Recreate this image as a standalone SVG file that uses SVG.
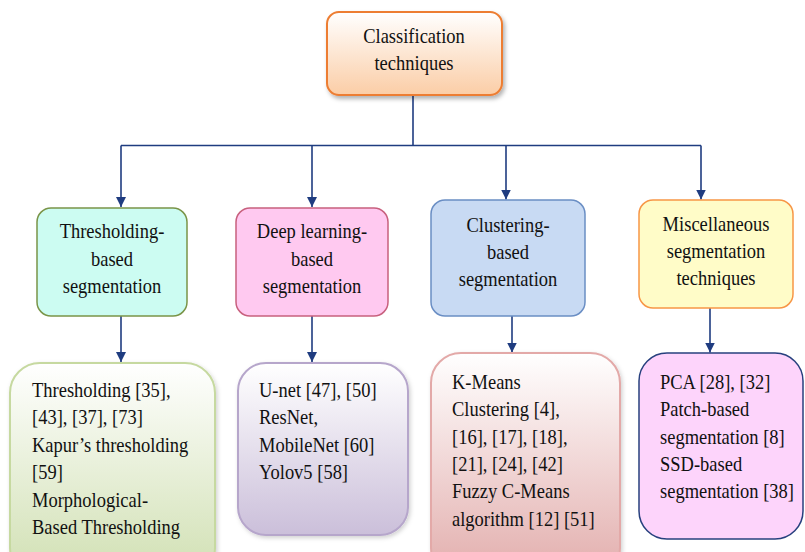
<svg xmlns="http://www.w3.org/2000/svg" width="805" height="552" viewBox="0 0 805 552">
<style>
  text { font-family: "Liberation Serif", "Times New Roman", serif; font-size: 18.5px; fill: #111; }
  .c { text-anchor: middle; }
  .conn { fill: none; stroke: #1F3C80; stroke-width: 1.6; }
</style>
<defs>
  <marker id="arr" markerUnits="userSpaceOnUse" markerWidth="10" markerHeight="10" refX="10" refY="5" orient="auto">
    <path d="M0,0 L10,5 L0,10 z" fill="#1F3C80"/>
  </marker>
  <filter id="sh" x="-10%" y="-10%" width="130%" height="130%">
    <feDropShadow dx="2" dy="3" stdDeviation="2" flood-color="#000" flood-opacity="0.3"/>
  </filter>
  <filter id="sh2" x="-10%" y="-10%" width="130%" height="130%">
    <feDropShadow dx="1.5" dy="2" stdDeviation="2" flood-color="#000" flood-opacity="0.18"/>
  </filter>
  <linearGradient id="gRoot" x1="0" y1="0" x2="0" y2="1">
    <stop offset="0" stop-color="#FFFFFF"/><stop offset="1" stop-color="#FBCDA6"/>
  </linearGradient>
  <linearGradient id="gGreen" x1="0" y1="0" x2="0" y2="1">
    <stop offset="0" stop-color="#FFFFFF"/><stop offset="0.9" stop-color="#D5E3BA"/>
  </linearGradient>
  <linearGradient id="gLav" x1="0" y1="0" x2="0" y2="1">
    <stop offset="0" stop-color="#FFFFFF"/><stop offset="1" stop-color="#CBBFDA"/>
  </linearGradient>
  <linearGradient id="gRose" x1="0" y1="0" x2="0" y2="1">
    <stop offset="0" stop-color="#FFFFFF"/><stop offset="0.9" stop-color="#E5B5B4"/>
  </linearGradient>
</defs>

<g id="connectors">
  <path class="conn" d="M413,95 V145.5"/>
  <path class="conn" d="M121,145.5 H701"/>
  <path class="conn" d="M121,145.5 V207" marker-end="url(#arr)"/>
  <path class="conn" d="M312,145.5 V207" marker-end="url(#arr)"/>
  <path class="conn" d="M506,145.5 V199.5" marker-end="url(#arr)"/>
  <path class="conn" d="M701,145.5 V199.5" marker-end="url(#arr)"/>
  <path class="conn" d="M121,316 V362" marker-end="url(#arr)"/>
  <path class="conn" d="M312,316 V362" marker-end="url(#arr)"/>
  <path class="conn" d="M512,316 V352.5" marker-end="url(#arr)"/>
  <path class="conn" d="M710,308 V352.5" marker-end="url(#arr)"/>
</g>

<g id="root">
  <rect x="327" y="12" width="175" height="83" rx="12" fill="url(#gRoot)" stroke="#ED7D31" stroke-width="2" filter="url(#sh)"/>
  <text class="c" transform="translate(414,43) scale(1,1.15)">Classification</text>
  <text class="c" transform="translate(414,70) scale(1,1.15)">techniques</text>
</g>

<g id="thresholding">
  <rect x="37" y="208" width="150" height="108" rx="14" fill="#CCFCF2" stroke="#7A9448" stroke-width="1.5"/>
  <text class="c" transform="translate(112,238) scale(1,1.15)">Thresholding-</text>
  <text class="c" transform="translate(112,266) scale(1,1.15)">based</text>
  <text class="c" transform="translate(112,293) scale(1,1.15)">segmentation</text>
</g>

<g id="deeplearning">
  <rect x="236" y="208" width="152" height="108" rx="14" fill="#FFC9F0" stroke="#C8607E" stroke-width="1.5"/>
  <text class="c" transform="translate(312,238) scale(1,1.15)">Deep learning-</text>
  <text class="c" transform="translate(312,266) scale(1,1.15)">based</text>
  <text class="c" transform="translate(312,293) scale(1,1.15)">segmentation</text>
</g>

<g id="clustering">
  <rect x="431" y="200" width="154" height="116" rx="14" fill="#C8DAF3" stroke="#6A8EC4" stroke-width="1.5"/>
  <text class="c" transform="translate(508,232) scale(1,1.15)">Clustering-</text>
  <text class="c" transform="translate(508,259) scale(1,1.15)">based</text>
  <text class="c" transform="translate(508,286) scale(1,1.15)">segmentation</text>
</g>

<g id="misc">
  <rect x="639" y="200" width="154" height="108" rx="14" fill="#FFFCC8" stroke="#F79646" stroke-width="1.5"/>
  <text class="c" transform="translate(716,231) scale(1,1.15)">Miscellaneous</text>
  <text class="c" transform="translate(716,258) scale(1,1.15)">segmentation</text>
  <text class="c" transform="translate(716,285) scale(1,1.15)">techniques</text>
</g>

<g id="thresholding-list">
  <rect x="10" y="363" width="205" height="215" rx="30" fill="url(#gGreen)" stroke="#C6D9A0" stroke-width="2" filter="url(#sh2)"/>
  <text transform="translate(32,397) scale(1,1.15)">Thresholding [35],</text>
  <text transform="translate(32,424) scale(1,1.15)">[43], [37], [73]</text>
  <text transform="translate(32,452) scale(1,1.15)">Kapur’s thresholding</text>
  <text transform="translate(32,479) scale(1,1.15)">[59]</text>
  <text transform="translate(32,507) scale(1,1.15)">Morphological-</text>
  <text transform="translate(32,534) scale(1,1.15)">Based Thresholding</text>
</g>

<g id="deeplearning-list">
  <rect x="238" y="363" width="170" height="172" rx="28" fill="url(#gLav)" stroke="#B6A6CB" stroke-width="2" filter="url(#sh2)"/>
  <text transform="translate(259,397) scale(1,1.15)">U-net [47], [50]</text>
  <text transform="translate(259,424) scale(1,1.15)">ResNet,</text>
  <text transform="translate(259,452) scale(1,1.15)">MobileNet [60]</text>
  <text transform="translate(259,479) scale(1,1.15)">Yolov5 [58]</text>
</g>

<g id="clustering-list">
  <rect x="431" y="353" width="189" height="225" rx="30" fill="url(#gRose)" stroke="#E3A9A8" stroke-width="2" filter="url(#sh2)"/>
  <text transform="translate(452,389) scale(1,1.15)">K-Means</text>
  <text transform="translate(452,416) scale(1,1.15)">Clustering [4],</text>
  <text transform="translate(452,444) scale(1,1.15)">[16], [17], [18],</text>
  <text transform="translate(452,471) scale(1,1.15)">[21], [24], [42]</text>
  <text transform="translate(452,498) scale(1,1.15)">Fuzzy C-Means</text>
  <text transform="translate(452,526) scale(1,1.15)">algorithm [12] [51]</text>
</g>

<g id="misc-list">
  <rect x="639" y="353" width="164" height="186" rx="28" fill="#FDD4FB" stroke="#27407E" stroke-width="1.5"/>
  <text transform="translate(660,389) scale(1,1.15)">PCA [28], [32]</text>
  <text transform="translate(660,416) scale(1,1.15)">Patch-based</text>
  <text transform="translate(660,444) scale(1,1.15)">segmentation [8]</text>
  <text transform="translate(660,471) scale(1,1.15)">SSD-based</text>
  <text transform="translate(660,498) scale(1,1.15)">segmentation [38]</text>
</g>
</svg>
